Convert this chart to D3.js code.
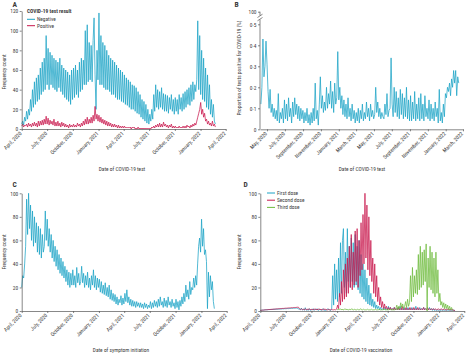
<!DOCTYPE html>
<html><head><meta charset="utf-8">
<script src="https://cdn.jsdelivr.net/npm/d3@7"></script>
<style>
body{margin:0;background:#fff}
svg{display:block}
text{font-family:"Liberation Sans Narrow","Roboto Condensed",Roboto,sans-serif;fill:#3a3a3a}
</style>
</head><body>
<svg id="chart" width="467" height="355"></svg>
<script>
// ---------------- DATA (semi-weekly readings, 3.5 days apart) ----------------
const stepHours = 84;
const testStart = "2020-04-01";
const negative = [5,8,4,12,8,18,10,20,14,
30,18,40,22,48,25,52,28,55,
30,62,35,68,38,72,40,95,45,
82,40,78,45,75,42,72,40,70,
38,68,42,72,38,65,35,62,
32,60,30,58,28,55,25,60,30,
62,32,65,35,60,32,68,38,72,
40,70,45,
100,45,106,48,88,50,85,48,90,113,55,20,80,50,
118,45,95,45,88,42,85,40,80,
40,75,38,72,35,70,35,68,
32,65,30,62,30,60,28,58,27,
55,25,52,24,50,22,48,20,45,
20,44,18,42,16,38,15,35,
12,30,10,28,8,25,6,20,5,
15,8,20,10,35,18,45,22,40,
20,38,22,42,20,36,18,35,
18,34,16,32,20,35,18,30,15,
32,18,30,15,35,20,32,18,36,
20,38,22,40,25,42,24,45,
28,48,30,45,38,50,
110,40,95,35,80,30,72,28,62,22,55,20,45,15,30,12,25,8,5];
const positive = [3,5,2,4,3,5,2,6,3,
5,2,6,3,7,3,6,2,8,
3,8,4,9,4,10,5,13,5,
11,4,9,5,8,4,10,3,7,
3,8,3,6,2,7,3,6,
2,5,2,4,1,5,2,4,2,
5,2,4,2,6,3,5,2,6,
3,8,4,10,5,12,5,10,6,
12,6,14,8,23,10,15,8,
14,7,12,6,10,5,9,4,8,
3,7,3,6,2,5,2,5,
2,4,1,4,1,3,1,3,1,
3,1,2,1,2,1,2,0,2,
1,2,0,1,0,2,0,1,
0,1,0,1,0,1,0,1,0,
1,0,2,1,3,1,4,2,5,
2,6,2,5,2,7,3,5,
2,4,1,4,2,5,1,3,1,
3,1,2,1,3,1,2,1,3,
1,3,1,4,2,3,1,4,
2,5,3,6,4,8,12,16,20,27,15,20,12,16,8,10,5,8,4,6,3,8,3,5,2];

const proportionStart = "2020-04-10";
const proportion = [0.12,0.2,0.43,0.25,0.3,0.42,
0.31,0.18,0.1,0.19,0.08,0.12,0.06,0.1,0.05,
0.09,0.04,0.17,0.03,0.08,0.05,0.1,0.03,0.14,
0.05,0.12,0.04,0.15,0.06,0.1,0.03,0.13,0.06,
0.15,0.07,0.12,0.05,0.11,0.04,0.1,0.05,
0.09,0.03,0.08,0.04,0.1,0.03,0.07,0.02,0.08,
0.03,0.1,0.04,0.22,0.05,0.09,0.02,0.12,
0.25,0.1,0.16,0.08,0.13,0.09,0.2,0.1,0.17,
0.12,0.23,0.1,0.18,0.08,0.22,0.12,0.15,0.37,
0.14,0.2,0.1,0.16,0.07,0.14,0.06,0.12,0.05,
0.15,0.06,0.1,0.04,0.12,0.05,0.09,0.03,
0.08,0.04,0.1,0.03,0.09,0.05,0.12,0.04,0.08,
0.05,0.13,0.06,0.1,0.04,0.12,0.06,0.09,0.05,
0.07,0.2,0.08,0.13,0.06,0.1,0.05,0.08,0.06,
0.05,0.12,0.07,0.17,0.06,0.09,0.1,0.34,
0.12,0.06,0.2,0.08,0.18,0.06,0.15,0.05,0.19,
0.07,0.17,0.05,0.15,0.06,0.2,0.05,0.14,0.04,
0.16,0.04,0.13,0.05,0.18,0.04,0.12,0.05,
0.15,0.04,0.17,0.05,0.12,0.04,0.16,0.06,0.1,
0.05,0.14,0.04,0.12,0.05,0.1,0.04,0.13,0.06,
0.1,0.03,0.19,0.04,0.08,0.03,0.12,
0.06,0.17,0.15,0.2,0.18,0.22,0.16,0.24,0.2,0.28,0.22,0.28,0.16,0.25,0.22];

const symptomStart = "2020-04-01";
const symptom = [20,30,28,40,55,95,65,100,70,
90,60,85,55,80,58,75,50,72,
48,70,45,65,50,55,85,60,78,
55,70,50,65,45,60,42,55,
38,52,35,48,32,45,30,42,28,
38,25,35,22,33,20,32,22,35,
22,30,20,37,24,32,22,25,38,
24,32,20,30,22,33,20,28,18,
30,22,35,20,30,18,28,20,
27,16,25,15,22,14,24,13,20,
12,22,10,18,9,15,8,14,
6,12,5,10,7,13,5,11,6,
15,8,18,7,12,5,10,4,9,
4,8,3,8,4,7,3,7,
3,6,2,7,3,6,2,5,3,
8,2,7,3,9,4,8,3,10,
4,12,5,8,3,11,4,9,
3,12,5,8,3,10,4,7,2,
10,3,8,1,9,4,12,6,15,
8,22,12,18,10,25,14,20,
18,28,20,30,22,40,55,62,50,78,55,70,48,52,42,2,33,12,30,18,25,8,2];

const firstDoseStart = "2020-04-01";
const firstDose = [0.5,0.6,0.8,0.7,0.9,1,1.1,1,1.2,
1.2,1.3,1.2,1.4,1.3,1.5,1.4,1.6,1.5,
1.6,1.7,1.6,1.8,1.7,1.9,1.8,2,1.9,
2,2.1,2,2.2,2.1,2.3,2.2,2.4,2.3,
2.4,2.5,2.2,1.8,1.4,1.1,2.5,0.8,
1.5,0.6,2.8,0.7,1.2,0.5,2,0.6,1,
1,2,0.5,1.5,1,2,0.5,1,1.5,0.5,1,2,0.5,1,0.5,1,2,1,
1,0.5,2,30,5,40,10,35,8,45,12,58,15,60,70,20,50,15,70,25,55,20,62,25,58,20,65,22,55,18,60,15,48,12,40,10,35,8,28,6,22,5,15,4,10,3,8,2,5,2,4,1,
3,1,2,1,3,1,2,1,4,1,3,1,2,1,3,1,2,1,3,1,4,1,2,1,3,1,2,1,3,1,2,1,3,1,2,1,4,1,2,1,3,1,2,1,3,1,2,1,2,1,3,1,2,0.5,2,0.5,1,0.5,1,0.5,1,0.5,1,0.5,1,0.5,1,0.5,1,0.5,1,0.5,1,0.5,1,0.5,0.5];

const secondDoseStart = "2020-04-01";
const secondDose = [0.5,0.6,0.7,0.8,0.9,1,1,1.1,1.2,1.2,1.3,1.4,1.4,1.5,1.6,1.6,1.7,1.8,1.8,1.9,2,2,2.1,2.2,2.2,2.3,2.4,2.4,2.5,2.6,2.6,2.7,2.8,2.8,2.9,3,3,3.1,3.2,3.2,
2,1.2,2,1,1.5,1,2,1,1.5,1,2,1,1.5,1,1.5,1,2,1,1.5,1,2,1,1.5,1,1,2,1,1.5,1,1,1.5,1,1,1.5,1,1,1.2,1,1.5,
5,2,15,5,25,8,35,10,40,12,45,15,55,20,65,18,50,22,68,25,70,20,60,30,75,35,82,40,100,45,90,35,80,30,60,25,45,15,40,12,30,8,20,5,12,3,8,2,6,2,4,1,3,
1,3,1,2,1,3,1,2,1,3,1,2,1,4,1,2,1,3,1,2,1,3,1,2,1,3,1,2,1,3,1,2,1,2,1,3,1,2,1,3,1,2,1,2,1,2,1,2,1,1,2,1,1,2,1,1,2,1,1,1,2,1,1,1,1,1,0.5,0.5];

const thirdDoseStart = "2021-01-01";
const thirdDose = [1,1.5,1,2,1,1.5,1,1,2,1,1.5,1,1,1.5,1,2,1,1,1.5,1,1,1.5,1,1,2,1,1,1.5,1,1,1,1.5,1,1,1,1.5,1,1,1,1.5,1,1,1,1.5,1,1,1,1,1.5,1,1,1,1,1,1.5,1,1,1,1,1,
2,5,1,4,2,7,3,6,2,
4,8,3,10,4,7,30,8,
37,12,30,15,35,14,48,18,55,20,50,22,52,25,57,0,45,20,55,18,50,15,45,12,50,15,35,8,15,5,8,3,7,2,6,2,5,1,4,1,3,0.5];

const quarterTicks = ["2020-04-01","2020-07-01","2020-10-01","2021-01-01","2021-04-01","2021-07-01","2021-10-01","2022-01-01","2022-04-01"];
const quarterLabels = ["April, 2020","July, 2020","October, 2020","January, 2021","April, 2021","July, 2021","October, 2021","January, 2022","April, 2022"];
const bimonthTicks = ["2020-05-01","2020-07-01","2020-09-01","2020-11-01","2021-01-01","2021-03-01","2021-05-01","2021-07-01","2021-09-01","2021-11-01","2022-01-01","2022-03-01"];
const bimonthLabels = ["May, 2020","July, 2020","September, 2020","November, 2020","January, 2021","March, 2021","May, 2021","July, 2021","September, 2021","November, 2021","January, 2022","March, 2022"];
const testTicks = [0,20,40,60,80,100,120];
const propTicks = [0,0.1,0.2,0.3,0.4,0.5];
const propBreakTicks = [100];
const countTicks = [0,20,40,60,80,100];
const testLegend = ["Negative","Positive"];
const doseLegend = ["First dose","Second dose","Third dose"];

// ---------------- DRAW ----------------
const C_TEAL = "#1ba3c6", C_RED = "#c8174c", C_GREEN = "#6dbb3c", AXIS = "#555";
const parse = d3.utcParse("%Y-%m-%d");
const svg = d3.select("#chart");
const series = (start, vals) => vals.map((v, i) => ({date: d3.utcHour.offset(parse(start), i * stepHours), value: v}));

function xAxis(g, x, y0, ticks, labels) {
  const ax = g.append("g").attr("transform", `translate(0,${y0})`)
    .call(d3.axisBottom(x).tickValues(ticks.map(parse)).tickFormat((d, i) => labels[i]).tickSize(2).tickSizeOuter(0));
  ax.selectAll("text").attr("text-anchor", "end").attr("x", -3.5).attr("y", 1.5).attr("dy", "0.35em")
    .attr("transform", "rotate(-45)").style("font-size", "5.4px");
  styleAxis(ax);
}
function styleAxis(ax) {
  ax.select(".domain").attr("stroke", AXIS).attr("stroke-width", 0.7);
  ax.selectAll(".tick line").attr("stroke", AXIS).attr("stroke-width", 0.7);
  ax.selectAll("text").style("fill", "#3a3a3a").style("font-family", null);
}
function yAxis(g, y, x0, ticks, fmt) {
  const ax = g.append("g").attr("transform", `translate(${x0},0)`)
    .call(d3.axisLeft(y).tickValues(ticks).tickFormat(fmt || (d => d)).tickSize(2).tickPadding(1.5).tickSizeOuter(0));
  ax.selectAll("text").style("font-size", "5.4px");
  styleAxis(ax);
  return ax;
}
function line(x, y, data, color, w) {
  svg.append("path").datum(data)
    .attr("d", d3.line().x(d => x(d.date)).y(d => y(d.value)))
    .attr("fill", "none").attr("stroke", color).attr("stroke-width", w || 0.75).attr("stroke-linejoin", "round");
}
function label(txt, x, y, opts = {}) {
  const t = svg.append("text").attr("x", x).attr("y", y).text(txt)
    .style("font-size", (opts.size || 5.4) + "px")
    .attr("text-anchor", opts.anchor || "start");
  if (opts.bold) t.style("font-weight", "bold");
  if (opts.rot) t.attr("transform", `rotate(-90,${x},${y})`);
  return t;
}
const fullDomain = [parse("2020-04-01"), parse("2022-04-01")];

// Panel A
{
  const x = d3.scaleUtc().domain(fullDomain).range([21.7, 225.7]);
  const y = d3.scaleLinear().domain([0, 120]).range([129, 11]);
  line(x, y, series(testStart, negative), C_TEAL);
  line(x, y, series(testStart, positive), C_RED);
  xAxis(svg, x, 129, quarterTicks, quarterLabels);
  yAxis(svg, y, 21.7, testTicks);
  label("A", 12.5, 6.5, {bold: true, size: 7.5});
  label("Frequency count", 5.5, 72, {rot: true, anchor: "middle"});
  label("Date of COVID-19 test", 122, 171, {anchor: "middle"});
  label("COVID-19 test result", 27, 13, {bold: true});
  [C_TEAL, C_RED].forEach((c, i) => {
    svg.append("line").attr("x1", 27).attr("x2", 35).attr("y1", 19.3 + i * 6.4).attr("y2", 19.3 + i * 6.4).attr("stroke", c).attr("stroke-width", 1);
    label(testLegend[i], 37, 21.2 + i * 6.4);
  });
}
// Panel B
{
  const x = d3.scaleUtc().domain([parse("2020-04-07"), parse("2022-03-01")]).range([260, 463]);
  const y = d3.scaleLinear().domain([0, 0.5]).range([129.3, 24.3]);
  line(x, y, series(proportionStart, proportion), C_TEAL);
  xAxis(svg, x, 129.3, bimonthTicks, bimonthLabels);
  const fmt = d => d === 0 ? "0" : d3.format(".1f")(d).replace(".", "·");
  const ax = yAxis(svg, y, 260, propTicks, fmt);
  ax.select(".domain").attr("d", "M-0,129.3V19.5");
  const yTop = d3.scaleLinear().domain([99, 101]).range([14, 9.4]);
  const ax2 = svg.append("g").attr("transform", "translate(260,0)")
    .call(d3.axisLeft(yTop).tickValues(propBreakTicks).tickFormat(d => String(d)).tickSize(2).tickPadding(1.5).tickSizeOuter(0));
  ax2.selectAll("text").style("font-size", "5.4px");
  styleAxis(ax2);
  ax2.select(".domain").attr("d", "M0,15.5V11.7");
  svg.append("path").attr("d", "M257.5,17.5L262.5,14.2M257.5,20.8L262.5,17.5").attr("stroke", AXIS).attr("stroke-width", 0.7).attr("fill", "none");
  label("B", 234.5, 6.5, {bold: true, size: 7.5});
  label("Proportion of tests positive for COVID-19 (%)", 241, 68, {rot: true, anchor: "middle"});
  label("Date of COVID-19 test", 362, 171, {anchor: "middle"});
}
// Panel C
{
  const x = d3.scaleUtc().domain(fullDomain).range([21.7, 226.7]);
  const y = d3.scaleLinear().domain([0, 100]).range([311, 193.3]);
  line(x, y, series(symptomStart, symptom), C_TEAL);
  xAxis(svg, x, 311, quarterTicks, quarterLabels);
  yAxis(svg, y, 21.7, countTicks);
  label("C", 12.5, 187, {bold: true, size: 7.5});
  label("Frequency count", 5.5, 252, {rot: true, anchor: "middle"});
  label("Date of symptom initiation", 121, 352, {anchor: "middle"});
}
// Panel D
{
  const x = d3.scaleUtc().domain(fullDomain).range([260.3, 464.3]);
  const y = d3.scaleLinear().domain([0, 100]).range([311, 193.3]);
  line(x, y, series(firstDoseStart, firstDose), C_TEAL);
  line(x, y, series(secondDoseStart, secondDose), C_RED);
  line(x, y, series(thirdDoseStart, thirdDose), C_GREEN);
  xAxis(svg, x, 311, quarterTicks, quarterLabels);
  yAxis(svg, y, 260.3, countTicks);
  label("D", 243.5, 187, {bold: true, size: 7.5});
  label("Frequency count", 241, 252, {rot: true, anchor: "middle"});
  label("Date of COVID-19 vaccination", 361, 352, {anchor: "middle"});
  [C_TEAL, C_RED, C_GREEN].forEach((c, i) => {
    svg.append("line").attr("x1", 267).attr("x2", 275).attr("y1", 193 + i * 7.2).attr("y2", 193 + i * 7.2).attr("stroke", c).attr("stroke-width", 1);
    label(doseLegend[i], 277, 194.9 + i * 7.2);
  });
}
</script>
</body></html>
